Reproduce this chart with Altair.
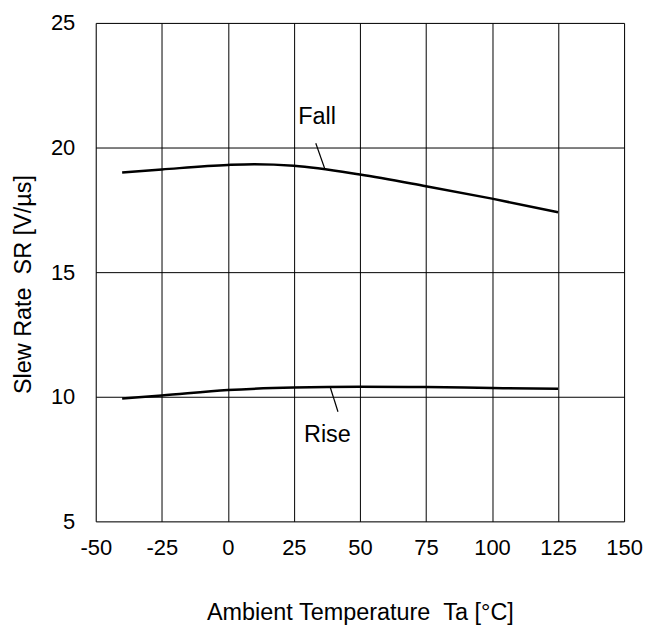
import altair as alt
import pandas as pd

temp_fall = [-40, -25, 0, 10, 25, 50, 75, 100, 125]
sr_fall = [19.0, 19.12, 19.3, 19.33, 19.27, 18.92, 18.45, 17.95, 17.4]
temp_rise = [-40, -25, 0, 25, 50, 75, 100, 125]
sr_rise = [9.93, 10.05, 10.27, 10.37, 10.4, 10.39, 10.35, 10.32]

label_text = ["Fall", "Rise"]
label_x = [33.8, 37.7]
label_y = [21.24, 8.48]
leader_x = [33.3, 38.7]
leader_y = [20.17, 10.4]
leader_x2 = [36.8, 41.7]
leader_y2 = [19.12, 9.4]

x_ticks = [-50, -25, 0, 25, 50, 75, 100, 125, 150]
y_ticks = [5, 10, 15, 20, 25]

FONT = "Liberation Sans"
NB = "\u00a0"

df = pd.concat([
    pd.DataFrame({"t": temp_fall, "sr": sr_fall, "s": "Fall"}),
    pd.DataFrame({"t": temp_rise, "sr": sr_rise, "s": "Rise"}),
])
lab = pd.DataFrame({"text": label_text, "x": label_x, "y": label_y})
lead = pd.DataFrame({"x": leader_x, "y": leader_y, "x2": leader_x2, "y2": leader_y2})

xs = alt.Scale(domain=[-50, 150], nice=False, zero=False)
ys = alt.Scale(domain=[5, 25], nice=False, zero=False)

xax = alt.Axis(values=x_ticks, title="Ambient Temperature " + NB + "Ta [°C]", grid=True,
               gridColor="black", gridWidth=1, gridOpacity=1, ticks=False, domain=False,
               labelExpr="'' + datum.value",
               labelFont=FONT, labelFontSize=22, labelColor="black", labelPadding=16,
               titleFont=FONT, titleFontSize=23.5, titleFontWeight="normal", titleColor="black",
               titlePadding=42, labelFlush=False)
yax = alt.Axis(values=y_ticks, title="Slew Rate " + NB + "SR [V/µs]", grid=True,
               gridColor="black", gridWidth=1, gridOpacity=1, ticks=False, domain=False,
               labelExpr="'' + datum.value",
               labelFont=FONT, labelFontSize=22, labelColor="black", labelPadding=21,
               titleFont=FONT, titleFontSize=23.5, titleFontWeight="normal", titleColor="black",
               titlePadding=15, titleY=262, labelFlush=False)

lines = alt.Chart(df).mark_line(color="black", strokeWidth=2.5, interpolate="monotone").encode(
    x=alt.X("t:Q", scale=xs, axis=xax),
    y=alt.Y("sr:Q", scale=ys, axis=yax),
    detail="s:N",
)
leaders = alt.Chart(lead).mark_rule(color="black", strokeWidth=1.2).encode(
    x="x:Q", y="y:Q", x2="x2:Q", y2="y2:Q"
)
labels = alt.Chart(lab).mark_text(font=FONT, fontSize=23.5, color="black").encode(
    x="x:Q", y="y:Q", text="text:N"
)

chart = alt.layer(lines, leaders, labels).properties(
    width=530, height=500,
    autosize=alt.AutoSizeParams(type="none"),
    padding={"left": 88, "top": 14, "right": 30, "bottom": 108},
).configure_view(stroke="black", strokeWidth=2.5).configure(background="white")

chart.save("out.html", embed_options={"renderer": "svg", "actions": False})
